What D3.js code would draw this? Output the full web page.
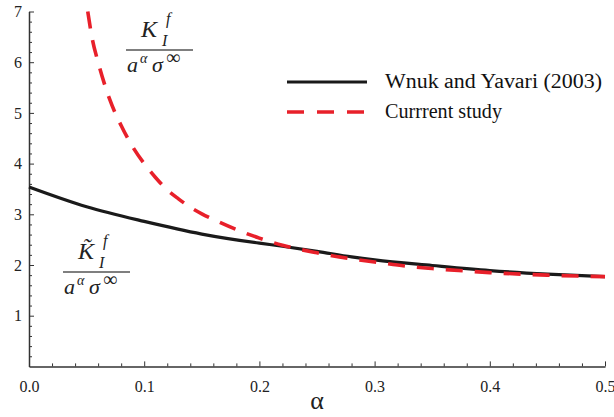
<!DOCTYPE html>
<html><head><meta charset="utf-8">
<script src="https://cdn.jsdelivr.net/npm/d3@7"></script>
<style>
body{margin:0;background:#fff;}
</style></head>
<body><svg id="c" width="614" height="417"></svg>
<script>
// ---- data ----
const xTicks = [0.0, 0.1, 0.2, 0.3, 0.4, 0.5];
const yTicks = [1, 2, 3, 4, 5, 6, 7];
const seriesNames = ["Wnuk and Yavari (2003)", "Currrent study"];
const wnukAlpha = [0, 0.05, 0.1, 0.15, 0.2, 0.22, 0.25, 0.28, 0.3, 0.35, 0.4, 0.45, 0.5];
const wnukValue = [3.54, 3.15, 2.86, 2.61, 2.43, 2.37, 2.27, 2.16, 2.10, 1.99, 1.89, 1.82, 1.77];
const currentAlpha = [0.051, 0.055, 0.06, 0.07, 0.08, 0.09, 0.1, 0.11, 0.12, 0.13, 0.14, 0.15, 0.16, 0.18, 0.2, 0.22, 0.25, 0.28, 0.3, 0.33, 0.35, 0.38, 0.4, 0.45, 0.5];
const currentValue = [7.0, 6.45, 6.0, 5.27, 4.75, 4.33, 4.0, 3.72, 3.48, 3.30, 3.14, 3.01, 2.90, 2.70, 2.53, 2.39, 2.24, 2.12, 2.06, 1.97, 1.93, 1.88, 1.85, 1.80, 1.77];

const SERIF = "'Liberation Serif', 'Times New Roman', 'DejaVu Serif', serif";
const svg = d3.select("#c").style("font-family", SERIF);
const x = d3.scaleLinear().domain([0, 0.5]).range([29, 605]);
const y = d3.scaleLinear().domain([0, 7]).range([366.4, 11.5]);
const axisColor = "#333";

const xMinor = d3.range(0, 0.5001, 0.02).filter(v => Math.abs(v*10 - Math.round(v*10)) > 1e-6);
const yMinor = d3.range(0, 7.0001, 0.2).filter(v => Math.abs(v - Math.round(v)) > 1e-6);

const gx = svg.append("g").attr("transform", `translate(0,${y(0)})`);
gx.call(d3.axisBottom(x).tickValues(xTicks).tickSize(-5).tickSizeOuter(0).tickPadding(14).tickFormat(d3.format(".1f")));
const gxm = svg.append("g").attr("transform", `translate(0,${y(0)})`);
gxm.call(d3.axisBottom(x).tickValues(xMinor).tickSize(-3).tickSizeOuter(0).tickFormat(""));
gxm.select(".domain").remove();

const gy = svg.append("g").attr("transform", `translate(${x(0)},0)`);
gy.call(d3.axisLeft(y).tickValues(yTicks).tickSize(-5).tickSizeOuter(0).tickPadding(7).tickFormat(d3.format("d")));
const gym = svg.append("g").attr("transform", `translate(${x(0)},0)`);
gym.call(d3.axisLeft(y).tickValues(yMinor).tickSize(-3).tickSizeOuter(0).tickFormat(""));
gym.select(".domain").remove();

svg.selectAll("g").attr("font-family", null);
svg.selectAll(".domain").attr("stroke", axisColor).attr("stroke-width", 1.5);
svg.selectAll(".tick line").attr("stroke", axisColor).attr("stroke-width", 1);
svg.selectAll(".tick text").style("font-family", SERIF).attr("font-size", 16).attr("fill", "#222");

const line = d3.line().x(d => x(d[0])).y(d => y(d[1])).curve(d3.curveMonotoneX);
const wnuk = wnukAlpha.map((a, i) => [a, wnukValue[i]]);
const cur = currentAlpha.map((a, i) => [a, currentValue[i]]);
svg.append("path").attr("d", line(wnuk)).attr("fill", "none").attr("stroke", "#1a1a1a").attr("stroke-width", 3.2);
svg.append("path").attr("d", line(cur)).attr("fill", "none").attr("stroke", "#e8202a").attr("stroke-width", 3.6).attr("stroke-dasharray", "17,12");

const lg = svg.append("g");
lg.append("line").attr("x1", 287).attr("x2", 367).attr("y1", 82).attr("y2", 82).attr("stroke", "#1a1a1a").attr("stroke-width", 3.2);
lg.append("line").attr("x1", 287).attr("x2", 367).attr("y1", 112).attr("y2", 112).attr("stroke", "#e8202a").attr("stroke-width", 3.6).attr("stroke-dasharray", "17,13");
lg.append("text").attr("x", 385).attr("y", 88).attr("font-size", 20).attr("fill", "#111").style("font-family", SERIF)
  .attr("textLength", 217).attr("lengthAdjust", "spacingAndGlyphs").text(seriesNames[0]);
lg.append("text").attr("x", 385).attr("y", 118).attr("font-size", 20).attr("fill", "#111").style("font-family", SERIF)
  .attr("textLength", 117).attr("lengthAdjust", "spacingAndGlyphs").text(seriesNames[1]);

svg.append("text").attr("x", 317).attr("y", 409).attr("text-anchor", "middle").attr("font-size", 26).attr("fill", "#222").style("font-family", SERIF).text("α");

function frac(g, lineY, lineX1, lineX2, tilde) {
  const t = (xx, yy, fs, s, ital) => g.append("text").attr("x", xx).attr("y", yy).attr("font-size", fs)
      .attr("font-style", ital ? "italic" : "normal").attr("fill", "#222").style("font-family", SERIF).text(s);
  g.append("line").attr("x1", lineX1).attr("x2", lineX2).attr("y1", lineY).attr("y2", lineY).attr("stroke", "#555").attr("stroke-width", 1.3);
  const kx = lineX1 + 15;
  t(kx, lineY - 13, 24, tilde ? "K\u0303" : "K", true);
  t(kx + 25, lineY - 26, 16, "f", true);
  t(kx + 21, lineY - 4, 16, "I", true);
  const dy = lineY + 22;
  t(lineX1 + 1, dy, 22, "a", true);
  t(lineX1 + 14, dy - 9, 14, "α", true);
  t(lineX1 + 26, dy, 22, "σ", true);
  t(lineX1 + 40, dy - 8, 20, "∞", false);
}
frac(svg.append("g"), 50, 126, 193, false);
frac(svg.append("g"), 272, 63, 130, true);
</script></body></html>
